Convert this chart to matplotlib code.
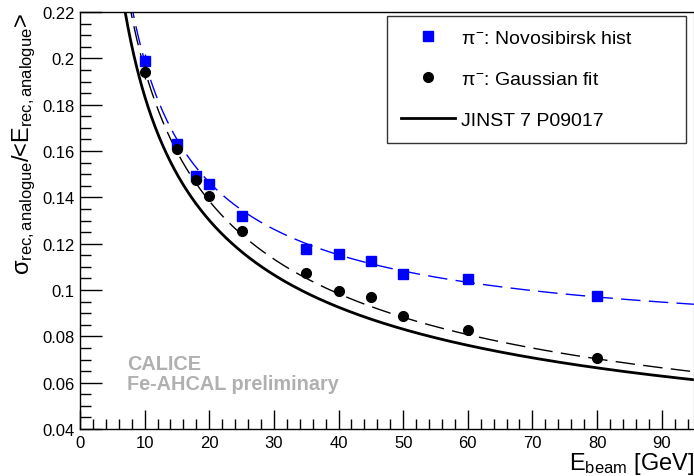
import numpy as np
import matplotlib
matplotlib.use("Agg")
import matplotlib.pyplot as plt
from matplotlib.lines import Line2D

plt.rcParams["font.family"] = ["Liberation Sans", "DejaVu Sans"]
plt.rcParams["mathtext.fontset"] = "custom"
plt.rcParams["mathtext.rm"] = "Liberation Sans"
plt.rcParams["mathtext.it"] = "Liberation Sans"
plt.rcParams["mathtext.sf"] = "Liberation Sans"

# beam energies (GeV)
e_beam = [10, 15, 18, 20, 25, 35, 40, 45, 50, 60, 80]

# pi-: Novosibirsk hist
res_novo = [0.199, 0.163, 0.149, 0.1457, 0.132, 0.1176, 0.1155, 0.1124, 0.1068, 0.1047, 0.0973]
err_novo = [0.003, 0.0012, 0.001, 0.001, 0.0008, 0.0006, 0.0006, 0.0005, 0.0005, 0.0005, 0.0004]

# pi-: Gaussian fit
res_gaus = [0.194, 0.1608, 0.1474, 0.1405, 0.1254, 0.1073, 0.0995, 0.0969, 0.0887, 0.0826, 0.0705]
err_gaus = [0.003, 0.0012, 0.001, 0.001, 0.0008, 0.0006, 0.0006, 0.0005, 0.0005, 0.0005, 0.0004]

# resolution fit parameters: stochastic, constant, noise
fit_novo = [0.540, 0.0754, 0.688]
fit_gaus = [0.616, 0.014, 0.0]
fit_jinst = [0.576, 0.016, 0.18]


def resolution(e, p):
    a, b, c = p
    return np.sqrt(a**2 / e + b**2 + (c / e)**2)


fig = plt.figure(figsize=(6.94, 4.77), dpi=100)
ax = fig.add_axes([80 / 694, 47 / 477, 614 / 694, 417 / 477])

e = np.linspace(5, 95, 600)
ax.plot(e, resolution(e, fit_jinst), color="black", lw=2.0)
ax.plot(e, resolution(e, fit_gaus), color="black", lw=1.0, dashes=(14, 6))
ax.plot(e, resolution(e, fit_novo), color="blue", lw=1.0, dashes=(14, 6))

ax.errorbar(e_beam, res_novo, yerr=err_novo, fmt="s", color="blue", ms=7.5,
            elinewidth=1, capsize=0, zorder=5)
ax.errorbar(e_beam, res_gaus, yerr=err_gaus, fmt="o", color="black", ms=7,
            elinewidth=1, capsize=0, zorder=6)

ax.set_xlim(0, 95)
ax.set_ylim(0.04, 0.22)
ax.set_xticks(np.arange(0, 91, 10))
ax.set_xticks(np.arange(0, 95, 2), minor=True)
ax.set_yticks(np.arange(0.04, 0.2201, 0.02))
ax.set_yticks(np.arange(0.04, 0.2201, 0.005), minor=True)
ax.set_yticklabels(["0.04", "0.06", "0.08", "0.1", "0.12", "0.14", "0.16", "0.18", "0.2", "0.22"])

ax.tick_params(axis="both", which="major", direction="in", length=16, width=1,
               labelsize=12, pad=4)
ax.tick_params(axis="both", which="minor", direction="in", length=8, width=1)
ax.tick_params(axis="x", which="major", length=14)
ax.tick_params(axis="x", which="minor", length=7)
for s in ax.spines.values():
    s.set_linewidth(1)
ax.spines["right"].set_color("#bbbbbb")

ax.set_ylabel(r"$\sigma_{\mathrm{rec,analogue}}$/<E$_{\mathrm{rec,analogue}}$>",
              fontsize=17, loc="top")
ax.yaxis.set_label_coords(-0.068, 1.0)
ax.set_xlabel(r"E$_{\mathrm{beam}}$ [GeV]", fontsize=17, loc="right")
ax.xaxis.set_label_coords(1.0, -0.05)

ax.text(7.3, 0.0659, "CALICE", color="#b0b0b0", fontsize=14.3,
        fontweight="bold", va="baseline")
ax.text(7.3, 0.0573, "Fe-AHCAL preliminary", color="#b0b0b0", fontsize=14.3,
        fontweight="bold", va="baseline")

handles = [
    Line2D([], [], marker="s", ls="none", color="blue", ms=7),
    Line2D([], [], marker="o", ls="none", color="black", ms=7),
    Line2D([], [], color="black", lw=2),
]
labels = [r"$\pi^{-}$: Novosibirsk hist", r"$\pi^{-}$: Gaussian fit", "JINST 7 P09017"]
leg = ax.legend(handles, labels, loc="upper left",
                bbox_to_anchor=(387 / 694, 1 - 17 / 477, 299 / 694, 0.0),
                bbox_transform=fig.transFigure, mode="expand",
                fontsize=14, frameon=True, fancybox=False, edgecolor="black",
                handlelength=2.8, handletextpad=0.3, labelspacing=1.2,
                borderpad=0.7, borderaxespad=0)
leg.get_frame().set_linewidth(1)

fig.savefig("out.png", dpi=100)
